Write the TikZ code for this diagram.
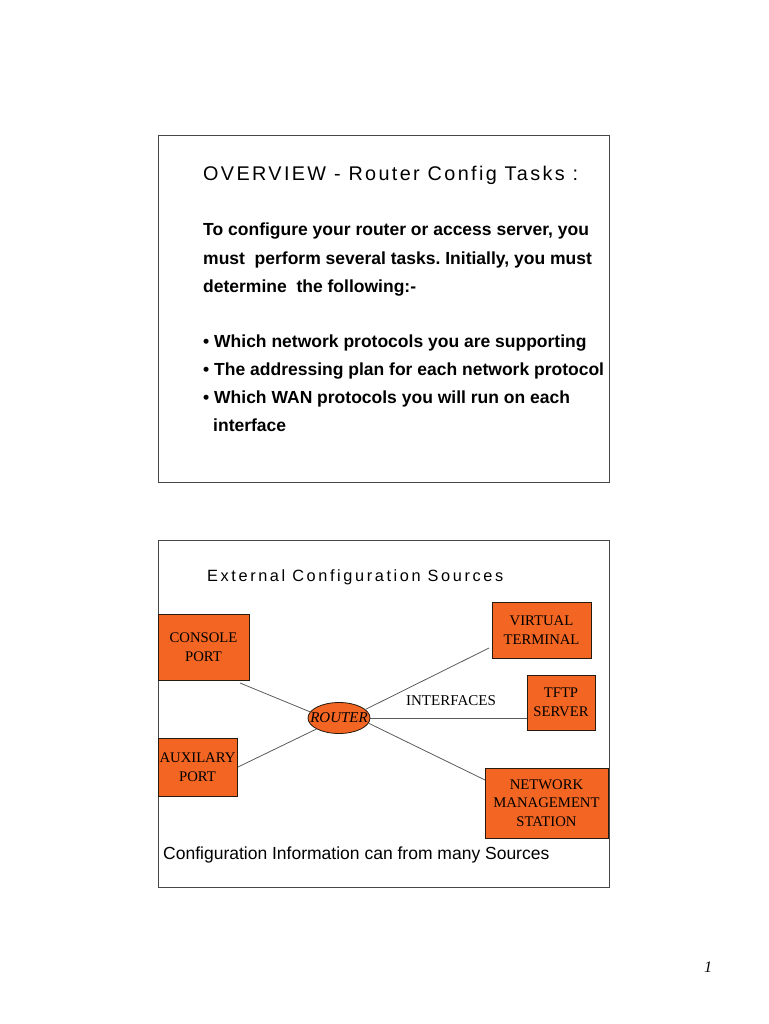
\documentclass[tikz,border=0pt]{standalone}
\usepackage{fontspec}
\setmainfont{Liberation Serif}
\newfontfamily\arialf{Liberation Sans}
\newfontfamily\titlefA[LetterSpace=12]{Liberation Sans}
\newfontfamily\titlefB[LetterSpace=16]{Liberation Sans}
\usetikzlibrary{shapes.geometric}
\frenchspacing
\definecolor{boxorange}{RGB}{242,101,34}
\definecolor{frameline}{RGB}{70,70,70}
\definecolor{linkgray}{RGB}{90,90,90}
\tikzset{
  frame/.style={draw=frameline, line width=0.9pt},
  srcbox/.style={draw=black!80!brown, line width=0.9pt, fill=boxorange, align=center, inner sep=0pt,
     font=\fontsize{14.7}{18.5}\selectfont},
  link/.style={draw=linkgray, line width=0.8pt},
  bodytext/.style={anchor=base west, inner sep=0pt, font=\arialf\bfseries\fontsize{17.5}{20}\selectfont},
}
\begin{document}
\begin{tikzpicture}[x=1pt,y=-1pt]
\useasboundingbox (0,0) rectangle (768,1024);
% slide 1
\node[frame, minimum width=451pt, minimum height=347pt, inner sep=0pt] (slide1) at (383.5,308.5) {};
\node[anchor=base west, inner sep=0pt, font=\titlefA\fontsize{19.8}{22}\selectfont] (t1) at (203,181) {OVERVIEW - Router Config Tasks :};
\node[bodytext] (b1) at (203,236) {To configure your router or access server, you};
\node[bodytext] (b2) at (203,264) {must\ \ perform several tasks. Initially, you must};
\node[bodytext] (b3) at (203,292) {determine\ \ the following:-};
\node[bodytext] (b4) at (203,347.5) {\textbullet\ Which network protocols you are supporting};
\node[bodytext] (b5) at (203,375.5) {\textbullet\ The addressing plan for each network protocol};
\node[bodytext] (b6) at (203,403.5) {\textbullet\ Which WAN protocols you will run on each};
\node[bodytext] (b7) at (213,431.5) {interface};
% slide 2
\node[frame, minimum width=451pt, minimum height=347pt, inner sep=0pt] (slide2) at (383.5,713.5) {};
\node[anchor=base west, inner sep=0pt, font=\titlefB\fontsize{16.3}{19}\selectfont] (t2) at (207,581) {External Configuration Sources};
\node[srcbox, minimum width=91pt, minimum height=66pt] (console) at (203.5,647) {CONSOLE\\PORT};
\node[srcbox, minimum width=99pt, minimum height=56pt] (vt) at (541.5,630) {VIRTUAL\\TERMINAL};
\node[srcbox, minimum width=68pt, minimum height=55pt] (tftp) at (561,702.5) {TFTP\\SERVER};
\node[srcbox, minimum width=79pt, minimum height=58pt] (aux) at (197.5,767) {AUXILARY\\PORT};
\node[srcbox, minimum width=123pt, minimum height=70pt] (nms) at (546.5,803) {NETWORK\\MANAGEMENT\\STATION};
\node[ellipse, draw=black!80!brown, line width=0.8pt, fill=boxorange, minimum width=62pt, minimum height=31pt, inner sep=0pt] (router) at (339,718) {};
\node[inner sep=0pt, font=\itshape\fontsize{15}{17}\selectfont] (routerlbl) at (router.center) {ROUTER};
\node[inner sep=0pt, font=\fontsize{15}{17}\selectfont] (ifl) at (451,701) {INTERFACES};
\coordinate (c1) at (240,683);
\coordinate (a1) at (238,767);
\coordinate (v1) at (489,648);
\coordinate (n1) at (485,780);
\draw[link] (c1) -- (router.168);
\draw[link] (a1) -- (router.206);
\draw[link] (router.18) -- (v1);
\draw[link] (router.east) -- (router.east -| tftp.west);
\draw[link] (router.-10) -- (n1);
\node[anchor=base west, inner sep=0pt, font=\arialf\fontsize{17.5}{20}\selectfont] (foot) at (163,859) {Configuration Information can from many Sources};
% page number
\node[anchor=base, inner sep=0pt, font=\itshape\fontsize{16}{19}\selectfont] (pg) at (708,972) {1};
\end{tikzpicture}
\end{document}
